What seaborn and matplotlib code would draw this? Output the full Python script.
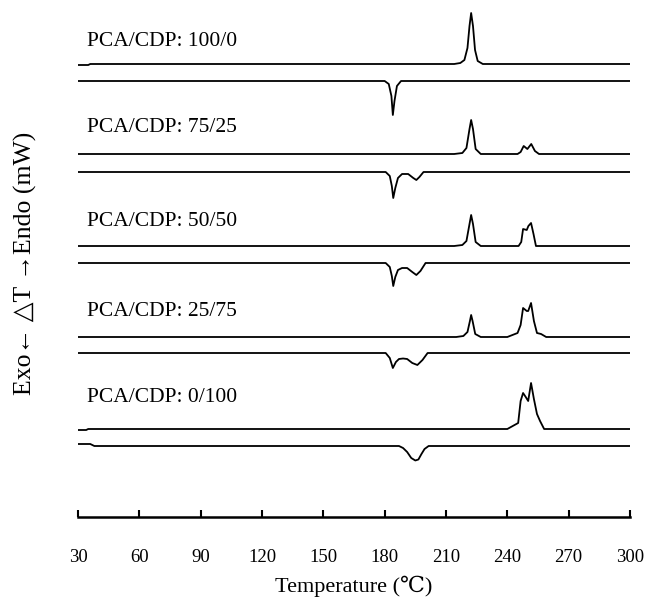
import matplotlib
matplotlib.use("Agg")
import matplotlib.pyplot as plt
import seaborn as sns
import pandas as pd

# ---------------- data (signal relative to each curve's own baseline) -------------
compositions = ["100/0", "75/25", "50/50", "25/75", "0/100"]

heat_T_100_0 = [30, 35, 36, 214, 217, 219, 220.5, 221.5, 222.3, 223.2, 224.2, 225.5, 228, 300]
heat_v_100_0 = [-1, -1, 0, 0, 1, 4, 16, 38, 51, 38, 14, 3, 0, 0]
cool_T_100_0 = [30, 180, 182, 183.3, 184, 184.8, 186, 188, 300]
cool_v_100_0 = [0, 0, -3, -15, -34, -20, -5, 0, 0]

heat_T_75_25 = [30, 214, 218, 220, 221.5, 222.3, 223.2, 224.5, 227, 245, 246.5, 248, 249.8, 251.7, 253.5, 255.5, 300]
heat_v_75_25 = [0, 0, 1, 6, 25, 34, 25, 5, 0, 0, 2, 8, 5, 10, 3, 0, 0]
cool_T_75_25 = [30, 180.5, 182.5, 183.5, 184.2, 185.2, 186.5, 188.5, 191.5, 194, 195.5, 197, 199, 300]
cool_v_75_25 = [0, 0, -4, -14, -26, -16, -6, -2, -2, -6, -8, -5, 0, 0]

heat_T_50_50 = [30, 214, 218, 220, 221.5, 222.3, 223.2, 224.5, 227, 245.5, 246.8, 247.7, 249.5, 250.3, 251.6, 252.8, 254, 300]
heat_v_50_50 = [0, 0, 1, 5, 22, 31, 22, 4, 0, 0, 4, 17, 16, 20, 23, 12, 0, 0]
cool_T_50_50 = [30, 180.5, 182.5, 183.5, 184.2, 185.2, 186.5, 188.5, 191, 193.5, 195.5, 197.5, 200, 300]
cool_v_50_50 = [0, 0, -4, -13, -23, -14, -7, -5, -5, -9, -12, -8, 0, 0]

heat_T_25_75 = [30, 215, 218.5, 220.5, 221.7, 222.3, 223, 224.3, 227, 240, 245, 246.5, 247.7, 249.5, 250.2, 251.6, 253, 254.5, 256.5, 259, 300]
heat_v_25_75 = [0, 0, 1, 5, 16, 22, 16, 3, 0, 0, 4, 12, 29, 26, 26, 34, 16, 4, 3, 0, 0]
cool_T_25_75 = [30, 180.5, 182.5, 184, 185.5, 187, 189, 191, 193.5, 196, 198.5, 201, 300]
cool_v_25_75 = [0, 0, -5, -15, -9, -6, -5.5, -6, -10, -12, -7, 0, 0]

heat_T_0_100 = [30, 34, 35, 240, 245.3, 246.5, 247.7, 249, 250.2, 251.6, 253, 254.5, 256, 258, 300]
heat_v_0_100 = [-1, -1, 0, 0, 6, 28, 36, 32, 28, 46, 30, 15, 8, 0, 0]
cool_T_0_100 = [30, 36, 38, 187, 189, 191, 193, 195, 196.5, 198, 199.5, 201.5, 300]
cool_v_0_100 = [2, 2, 0, 0, -2, -6, -12, -14.5, -13.5, -8, -3, 0, 0]

x_ticks = [30, 60, 90, 120, 150, 180, 210, 240, 270, 300]

heat_T = [heat_T_100_0, heat_T_75_25, heat_T_50_50, heat_T_25_75, heat_T_0_100]
heat_v = [heat_v_100_0, heat_v_75_25, heat_v_50_50, heat_v_25_75, heat_v_0_100]
cool_T = [cool_T_100_0, cool_T_75_25, cool_T_50_50, cool_T_25_75, cool_T_0_100]
cool_v = [cool_v_100_0, cool_v_75_25, cool_v_50_50, cool_v_25_75, cool_v_0_100]

# ---------------- layout (pixel rows from top of figure) ----------------
W, H = 645, 599
AX_Y = 517                          # pixel row of the x axis line
heat_base_px = [64, 154, 246, 337, 429]
cool_base_px = [81, 172, 263, 353, 446]
label_px = [42, 127, 222, 311, 397]

sns.set_theme(style="white")
plt.rcParams["font.family"] = ["Liberation Serif", "DejaVu Serif", "DejaVu Sans"]

fig = plt.figure(figsize=(W / 100, H / 100), dpi=100)
ax = fig.add_axes([78 / W, (H - AX_Y) / H, (630 - 78) / W, AX_Y / H])

rows = []
for i, comp in enumerate(compositions):
    for T, v in zip(heat_T[i], heat_v[i]):
        rows.append(dict(T=T, y=AX_Y - heat_base_px[i] + v, curve=f"{comp} heat"))
    for T, v in zip(cool_T[i], cool_v[i]):
        rows.append(dict(T=T, y=AX_Y - cool_base_px[i] + v, curve=f"{comp} cool"))
df = pd.DataFrame(rows)

curves = list(dict.fromkeys(df["curve"]))
sns.lineplot(data=df, x="T", y="y", hue="curve", units="curve", estimator=None,
             sort=False, palette=["black"] * len(curves), legend=False,
             linewidth=1.3, ax=ax)

for i, comp in enumerate(compositions):
    ax.text(34.5, AX_Y - label_px[i], f"PCA/CDP: {comp}", fontsize=15.5,
            ha="left", va="center", color="black")

ax.set_xlim(30, 300)
ax.set_ylim(0, AX_Y)
ax.set_xticks(x_ticks)
ax.set_yticks([])
ax.set_ylabel("")
for s in ["left", "right", "top"]:
    ax.spines[s].set_visible(False)
ax.spines["bottom"].set_linewidth(1.8)
ax.spines["bottom"].set_color("black")
ax.tick_params(axis="x", direction="in", length=5, width=1.5, pad=23,
               labelsize=13.5, colors="black", bottom=True)
ax.set_xlabel("")
fig.text((78 + 630) / 2 / W, 1 - 586 / H, "Temperature (℃)", fontsize=16,
         ha="center", va="center", color="black")

fig.text(25 / W, 1 - 263 / H, "Exo← △T →Endo (mW)", rotation=90,
         fontsize=18.5, ha="center", va="center", color="black")

fig.savefig("out.png", dpi=100)
